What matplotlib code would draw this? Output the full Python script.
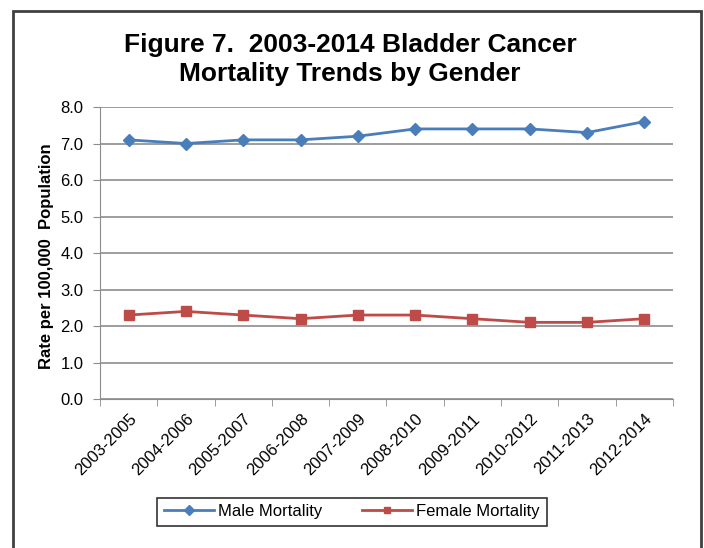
import numpy as np
import matplotlib
matplotlib.use('Agg')
import matplotlib.pyplot as plt
from matplotlib.patches import Rectangle

plt.rcParams['font.family'] = ['Liberation Sans', 'DejaVu Sans']

periods = ['2003-2005', '2004-2006', '2005-2007', '2006-2008', '2007-2009',
           '2008-2010', '2009-2011', '2010-2012', '2011-2013', '2012-2014']
male = [7.1, 7.0, 7.1, 7.1, 7.2, 7.4, 7.4, 7.4, 7.3, 7.6]
female = [2.3, 2.4, 2.3, 2.2, 2.3, 2.3, 2.2, 2.1, 2.1, 2.2]

fig = plt.figure(figsize=(7.04, 5.48), dpi=100)
ax = fig.add_axes([0.142, 0.2719, 0.814, 0.5328])

# outer chart border
fig.patches.append(Rectangle((13/704, -0.05), (701-13)/704, 1 - 11/548 + 0.05,
                             transform=fig.transFigure, fill=False,
                             edgecolor='#404040', linewidth=2))

x = np.arange(len(periods))
ax.plot(x, male, color='#4A7EBB', linewidth=2.0, marker='D', markersize=6,
        label='Male Mortality')
ax.plot(x, female, color='#BE4B48', linewidth=2.0, marker='s', markersize=6.5,
        label='Female Mortality')

ax.set_xlim(-0.5, len(periods) - 0.5)
ax.set_ylim(0, 8)
ax.set_yticks(np.arange(0, 9, 1))
ax.set_yticklabels([f'{v:.1f}' for v in range(9)], fontsize=12)
ax.yaxis.grid(True, color='#8c8c8c', linewidth=1.2)
ax.set_axisbelow(True)

ax.set_xticks(x)
ax.set_xticklabels(periods, rotation=45, ha='right', rotation_mode='anchor', fontsize=12)
ax.tick_params(axis='x', which='major', length=0, pad=9)
ax.set_xticks(np.arange(-0.5, len(periods), 1), minor=True)
ax.tick_params(axis='x', which='minor', length=5, color='#8c8c8c')
ax.tick_params(axis='y', length=5, color='#8c8c8c', pad=7)

for s in ['top', 'right']:
    ax.spines[s].set_visible(False)
for s in ['left', 'bottom']:
    ax.spines[s].set_color('#8c8c8c')

ax.set_ylabel('Rate per 100,000  Population', fontsize=12, fontweight='bold')
ax.yaxis.set_label_coords(-0.08, 0.49)

fig.text(0.497, 0.892, 'Figure 7.  2003-2014 Bladder Cancer\nMortality Trends by Gender',
         ha='center', va='center', fontsize=19, fontweight='bold', linespacing=1.25)

leg = fig.legend(loc='center', bbox_to_anchor=(0.5, 0.066),
                 ncol=2, fontsize=12, frameon=True, fancybox=False,
                 edgecolor='black', handlelength=3, handletextpad=0.25,
                 columnspacing=2.4, borderpad=0.4)
leg.get_frame().set_linewidth(1.2)
for line in leg.get_lines():
    line.set_linewidth(2)
    line.set_markersize(5)

fig.savefig('out.png', dpi=100)
